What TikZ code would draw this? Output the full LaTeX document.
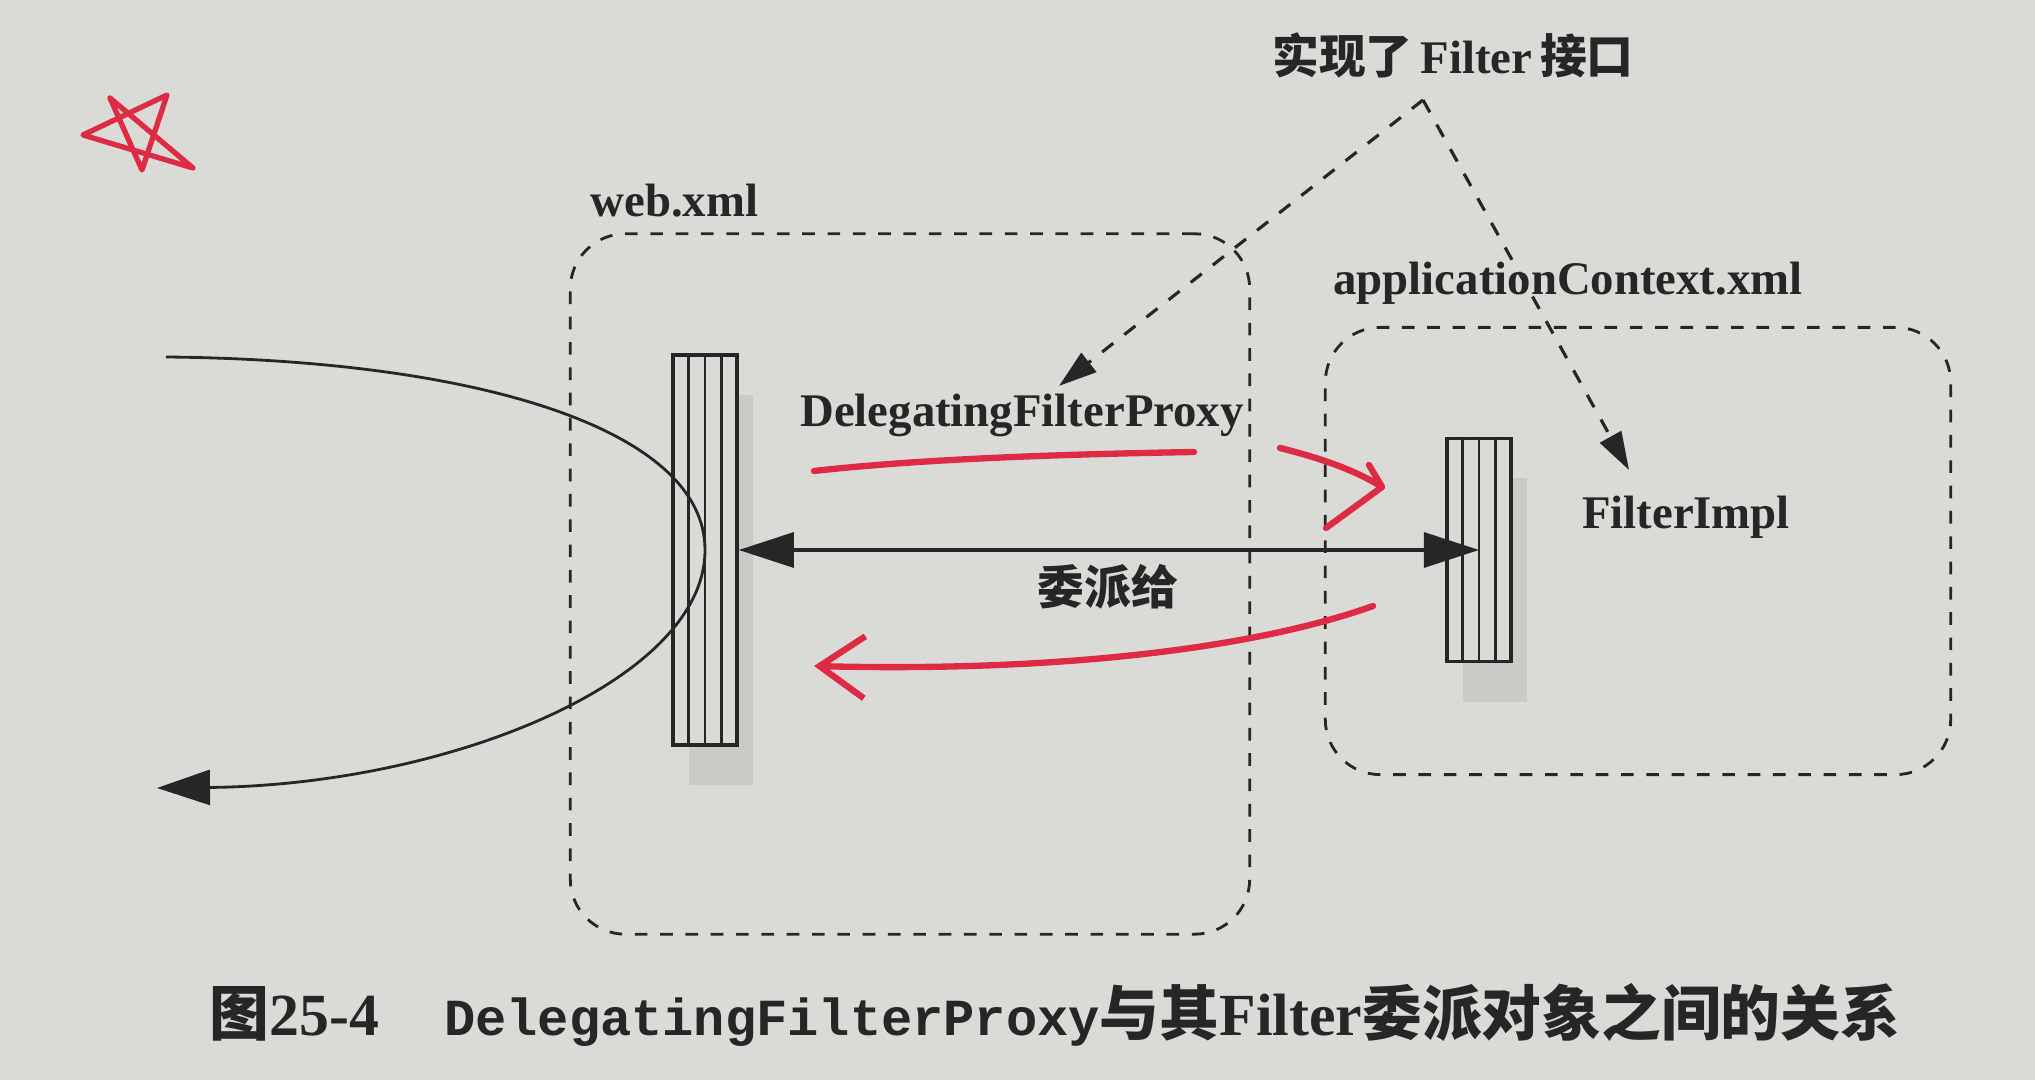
\documentclass[tikz,border=0pt]{standalone}
\usepackage{fontspec}
\setmainfont{Liberation Serif}
\setmonofont{Liberation Mono}
\newfontfamily\cjk{Noto Sans CJK SC}
\usepackage{xcolor}
\usetikzlibrary{arrows.meta, positioning, shadows, calc}
\definecolor{paper}{RGB}{218,219,215}
\definecolor{ink}{RGB}{38,38,38}
\definecolor{pen}{RGB}{222,42,68}
\tikzset{
    container/.style={rectangle, rounded corners=0.55cm, draw=ink, line width=0.8pt, dash pattern=on 3.6pt off 3.6pt},
    filterbar/.style={rectangle, draw=ink, line width=1pt, fill=paper, minimum width=0.64cm, inner sep=0pt, drop shadow={shadow xshift=0.16cm, shadow yshift=-0.4cm, fill=black, opacity=0.07}},
    lbl/.style={font=\bfseries\fontsize{13.3}{16}\selectfont, text=ink, inner sep=2pt},
    caption/.style={font=\bfseries\fontsize{17}{19}\selectfont, text=ink, inner sep=0pt},
    biarrow/.style={draw=ink, line width=0.9pt, {Triangle[length=0.55cm,width=0.35cm]}-{Triangle[length=0.55cm,width=0.35cm]}},
    pointer/.style={draw=ink, line width=0.9pt, dash pattern=on 4pt off 4pt, -{Triangle[length=0.38cm,width=0.24cm]}},
    flow/.style={draw=ink, line width=0.8pt, -{Triangle[length=0.53cm,width=0.35cm]}},
    markup/.style={draw=pen, line width=1.8pt, line cap=round, line join=round}
}

\begin{document}
\begin{tikzpicture}[x=0.01cm, y=-0.01cm]
    \fill[paper] (0,0) rectangle (2035,1080);
    \useasboundingbox (0,0) rectangle (2035,1080);

    % containers
    \node (web) [container, minimum width=6.79cm, minimum height=7cm] at (910,584) {};
    \node (app) [container, minimum width=6.25cm, minimum height=4.47cm] at (1638,551) {};
    \node (webname) [lbl, above right=0.07cm and 0.14cm of web.north west] {web.xml};
    \node (appname) [lbl] at (1568,283) {applicationContext.xml};

    % filters
    \node (proxybar) [filterbar, minimum height=3.9cm] at (705,550) {};
    \node (implbar) [filterbar, minimum height=2.23cm] at (1479,550) {};
    \foreach \bar in {proxybar, implbar}
        \foreach \k in {1,2,3}
            \draw[ink, line width=0.8pt] ($(\bar.north west)!\k/4!(\bar.north east)$) -- ($(\bar.south west)!\k/4!(\bar.south east)$);

    \node (proxyname) [lbl] at (1022,415) {DelegatingFilterProxy};
    \node (implname) [lbl] at (1686,517) {FilterImpl};
    \node (iface) [lbl] at (1453,55) {{\cjk 实现了}\,Filter\,{\cjk 接口}};
    \node (deleg) [lbl] at (1108,587) {\cjk 委派给};

    % connectors
    \coordinate (apex) at (1423,100);
    \coordinate (impltip) at (1629,470);
    \draw [pointer] (apex) -- (proxyname);
    \draw [pointer] (apex) -- (impltip);
    \draw [biarrow] (proxybar.east) -- (implbar.center);

    \coordinate (reqin) at (166,357);
    \coordinate (reqout) at (157,788);
    \draw [flow] (reqin) .. controls (480,360) and (705,430) .. (proxybar.center) .. controls (705,680) and (450,785) .. (reqout);

    % red pen marks
    \draw [markup] (814,471) .. controls (930,458) and (1080,454) .. (1194,452);
    \draw [markup] (1280,448) .. controls (1320,458) and (1355,470) .. (1382,487) -- (1326,528);
    \draw [markup] (1369,465) -- (1382,487);
    \draw [markup, -{Straight Barb[length=0.45cm,width=0.62cm]}] (1373,606) .. controls (1250,650) and (1050,672) .. (814,666);
    \draw [markup, line width=1.5pt] (110,98) -- (193,168) -- (83,135) -- (167,95) -- (142,170) -- cycle;

    \node (cap) [caption] at (1055,1015) {{\cjk 图}25-4\hspace{0.65cm}{\ttfamily\fontsize{14.8}{16}\selectfont DelegatingFilterProxy}{\cjk 与其}Filter{\cjk 委派对象之间的关系}};
\end{tikzpicture}
\end{document}
